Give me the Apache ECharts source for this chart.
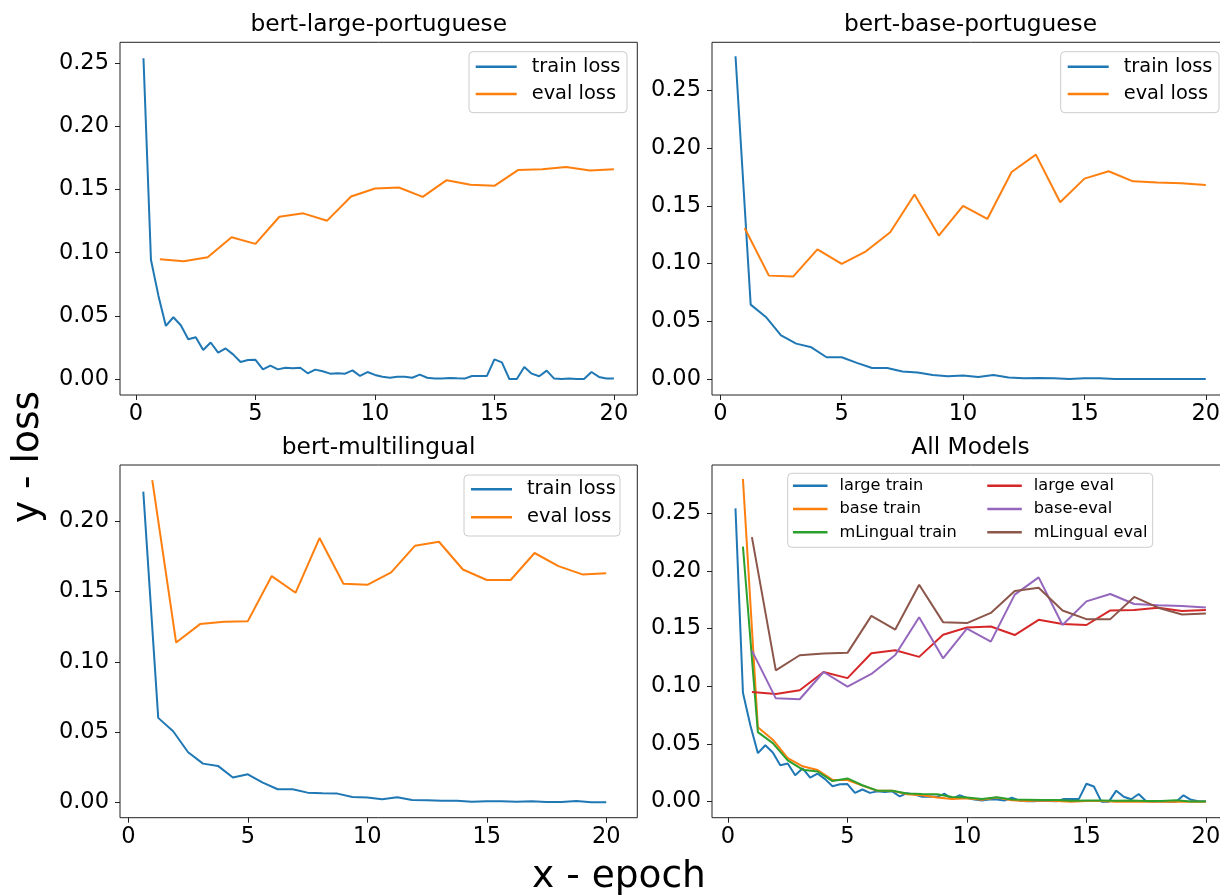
<!DOCTYPE html>
<html><head><meta charset="utf-8">
<script src="https://cdn.jsdelivr.net/npm/echarts@6/dist/echarts.min.js"></script>
<style>html,body{margin:0;padding:0;background:#fff;overflow:hidden}#c{width:1240px;height:895px}</style>
</head><body><div id="c"></div><script>
// ---- data ----
const largeTrainEpoch = [0.3125,0.625,0.9375,1.25,1.5625,1.875,2.1875,2.5,2.8125,3.125,3.4375,3.75,4.0625,4.375,4.6875,5,5.3125,5.625,5.9375,6.25,6.5625,6.875,7.1875,7.5,7.8125,8.125,8.4375,8.75,9.0625,9.375,9.6875,10,10.3125,10.625,10.9375,11.25,11.5625,11.875,12.1875,12.5,12.8125,13.125,13.4375,13.75,14.0625,14.375,14.6875,15,15.3125,15.625,15.9375,16.25,16.5625,16.875,17.1875,17.5,17.8125,18.125,18.4375,18.75,19.0625,19.375,19.6875,20];
const largeTrain = [0.254,0.0944,0.066,0.042,0.0489,0.0426,0.0315,0.0331,0.0229,0.0289,0.0208,0.0242,0.0195,0.0134,0.015,0.0152,0.0076,0.0105,0.0076,0.0089,0.0084,0.0089,0.0045,0.0074,0.0061,0.0042,0.0045,0.0042,0.0068,0.0024,0.0055,0.0032,0.0018,0.001,0.0018,0.0018,0.001,0.0034,0.001,0.0003,0.0003,0.0008,0.0005,0.0003,0.0024,0.0024,0.0024,0.0155,0.0131,0,0,0.0095,0.0042,0.0021,0.0066,0.0003,0,0.0003,0,0,0.0055,0.0016,0.0003,0.0003];
const halfEpoch = [0.625,1.25,1.875,2.5,3.125,3.75,4.375,5,5.625,6.25,6.875,7.5,8.125,8.75,9.375,10,10.625,11.25,11.875,12.5,13.125,13.75,14.375,15,15.625,16.25,16.875,17.5,18.125,18.75,19.375,20];
const baseTrain = [0.2795,0.0644,0.0537,0.0378,0.0306,0.0274,0.0188,0.0188,0.0139,0.0095,0.0095,0.0064,0.0055,0.0035,0.0023,0.0029,0.0017,0.0035,0.0012,0.0006,0.0009,0.0006,0.0,0.0006,0.0006,0.0,0.0,0.0,0.0,0.0,0.0,0.0];
const mlTrain = [0.2209,0.0602,0.0507,0.0358,0.0277,0.0261,0.0178,0.0201,0.0142,0.0095,0.0095,0.0071,0.0066,0.0064,0.004,0.0036,0.0024,0.0038,0.0019,0.0017,0.0014,0.0014,0.0007,0.0009,0.0009,0.0007,0.0009,0.0005,0.0005,0.0012,0.0002,0.0002];
const evalEpoch = [1,2,3,4,5,6,7,8,9,10,11,12,13,14,15,16,17,18,19,20];
const largeEval = [0.0949,0.0933,0.0965,0.1123,0.107,0.1285,0.1312,0.1254,0.1446,0.1509,0.1517,0.1443,0.1575,0.1538,0.153,0.1656,0.1661,0.168,0.1651,0.1661];
const baseEval = [0.1308,0.0895,0.0887,0.1123,0.0996,0.1106,0.1271,0.1597,0.1242,0.1499,0.1386,0.1793,0.1943,0.153,0.1735,0.1799,0.1712,0.1701,0.1695,0.1681];
const mlEval = [0.2291,0.1137,0.1268,0.1284,0.1289,0.1609,0.1491,0.1879,0.1555,0.1547,0.1635,0.1825,0.1853,0.1656,0.1581,0.1581,0.1773,0.168,0.1621,0.163];
const xTicks = [0,5,10,15,20];
const yTicks = [0,0.05,0.1,0.15,0.2,0.25];
const titles = ['bert-large-portuguese','bert-base-portuguese','bert-multilingual','All Models'];

// ---- chart ----
const FONT = 'DejaVu Sans';
const C = ['#1f77b4','#ff7f0e','#2ca02c','#d62728','#9467bd','#8c564b'];
const zip = (xs, ys) => xs.map((x, i) => [x, ys[i]]);
const GL = [120, 712, 120, 712], GT = [42.3, 42.3, 465, 465], GW = 517.3, GH = 352.7;
const xRange = [[-0.67, 20.98], [-0.344, 20.969], [-0.35, 21.3], [-0.67, 20.98]];
const yRange = [[-0.0127, 0.2667], [-0.0139, 0.2916], [-0.0107, 0.2398], [-0.0139, 0.2916]];
const tickFs = 22.5;

const grid = [], xAxis = [], yAxis = [];
for (let i = 0; i < 4; i++) {
  grid.push({left: GL[i], top: GT[i], width: GW, height: GH, show: true, borderColor: '#222', borderWidth: 1, backgroundColor: 'transparent'});
  xAxis.push({type: 'value', gridIndex: i, min: xRange[i][0], max: xRange[i][1], position: 'bottom',
    axisLine: {show: false, onZero: false}, splitLine: {show: false},
    axisTick: {show: true, length: 5, lineStyle: {color: '#222', width: 1}, customValues: xTicks},
    axisLabel: {customValues: xTicks, color: '#000', fontFamily: FONT, fontSize: tickFs, margin: 8, formatter: v => String(v)}});
  yAxis.push({type: 'value', gridIndex: i, min: yRange[i][0], max: yRange[i][1], position: 'left',
    axisLine: {show: false, onZero: false}, splitLine: {show: false},
    axisTick: {show: true, length: 5, lineStyle: {color: '#222', width: 1}, customValues: yTicks},
    axisLabel: {customValues: yTicks, color: '#000', fontFamily: FONT, fontSize: tickFs, margin: 11, formatter: v => v.toFixed(2)}});
}
const line = (name, gi, data, color) => ({type: 'line', name, xAxisIndex: gi, yAxisIndex: gi, data, symbol: 'none', showSymbol: false,
  lineStyle: {color, width: 2}, itemStyle: {color}, animation: false, silent: true, clip: false});
const series = [
  line('train loss', 0, zip(largeTrainEpoch, largeTrain), C[0]),
  line('eval loss', 0, zip(evalEpoch, largeEval), C[1]),
  line('train loss', 1, zip(halfEpoch, baseTrain), C[0]),
  line('eval loss', 1, zip(evalEpoch, baseEval), C[1]),
  line('train loss', 2, zip(halfEpoch, mlTrain), C[0]),
  line('eval loss', 2, zip(evalEpoch, mlEval), C[1]),
  line('large train', 3, zip(largeTrainEpoch, largeTrain), C[0]),
  line('base train', 3, zip(halfEpoch, baseTrain), C[1]),
  line('mLingual train', 3, zip(halfEpoch, mlTrain), C[2]),
  line('large eval', 3, zip(evalEpoch, largeEval), C[3]),
  line('base-eval', 3, zip(evalEpoch, baseEval), C[4]),
  line('mLingual eval', 3, zip(evalEpoch, mlEval), C[5]),
];
const mkLegend = (names, left, top, fs, iw, lh, gap, tpad) => ({
  data: names, orient: 'vertical', left, top, padding: 0, itemGap: gap,
  icon: 'rect', itemWidth: iw, itemHeight: 2.4, selectedMode: false,
  textStyle: {fontFamily: FONT, fontSize: fs, color: '#000', lineHeight: lh, padding: [0, 0, 0, tpad]}
});
const legend = [
  mkLegend(['train loss', 'eval loss'], 475.7, 56.7, 19.4, 41, 20, 7.3, 10),
  mkLegend(['train loss', 'eval loss'], 1067.7, 56.7, 19.4, 41, 20, 7.3, 10),
  mkLegend(['train loss', 'eval loss'], 471, 479.3, 19.4, 41, 20, 8, 10),
  mkLegend(['large train', 'base train', 'mLingual train'], 793, 477.2, 16.2, 34.5, 17, 6.3, 7),
  mkLegend(['large eval', 'base-eval', 'mLingual eval'], 987.3, 477.2, 16.2, 34.5, 17, 6.3, 7),
];
const legBoxes = [[469, 51.7, 158, 61], [1060.7, 51.7, 158.3, 61], [464, 475, 156, 61], [787.7, 473.3, 365, 74]];
const graphic = [];
legBoxes.forEach(b => graphic.push({type: 'rect', z: 3, silent: true, shape: {x: b[0], y: b[1], width: b[2], height: b[3], r: 4},
  style: {fill: 'rgba(255,255,255,0.8)', stroke: '#cccccc', lineWidth: 1}}));
const titlePos = [[378.7, 25], [970.5, 25], [378.7, 448], [970.5, 448]];
titles.forEach((t, i) => graphic.push({type: 'text', x: titlePos[i][0], y: titlePos[i][1], silent: true,
  style: {text: t, fontFamily: FONT, fontSize: 23.3, fill: '#000', textAlign: 'center', textVerticalAlign: 'middle'}}));
graphic.push({type: 'text', x: 619, y: 877, silent: true,
  style: {text: 'x - epoch', fontFamily: FONT, fontSize: 37.5, fill: '#000', textAlign: 'center', textVerticalAlign: 'middle'}});
graphic.push({type: 'text', x: 28, y: 457, rotation: Math.PI / 2, silent: true,
  style: {text: 'y - loss', fontFamily: FONT, fontSize: 37.5, fill: '#000', textAlign: 'center', textVerticalAlign: 'middle'}});

const chart = echarts.init(document.getElementById('c'), null, {renderer: 'canvas'});
chart.setOption({animation: false, backgroundColor: '#fff', grid, xAxis, yAxis, series, legend, graphic});
</script></body></html>
